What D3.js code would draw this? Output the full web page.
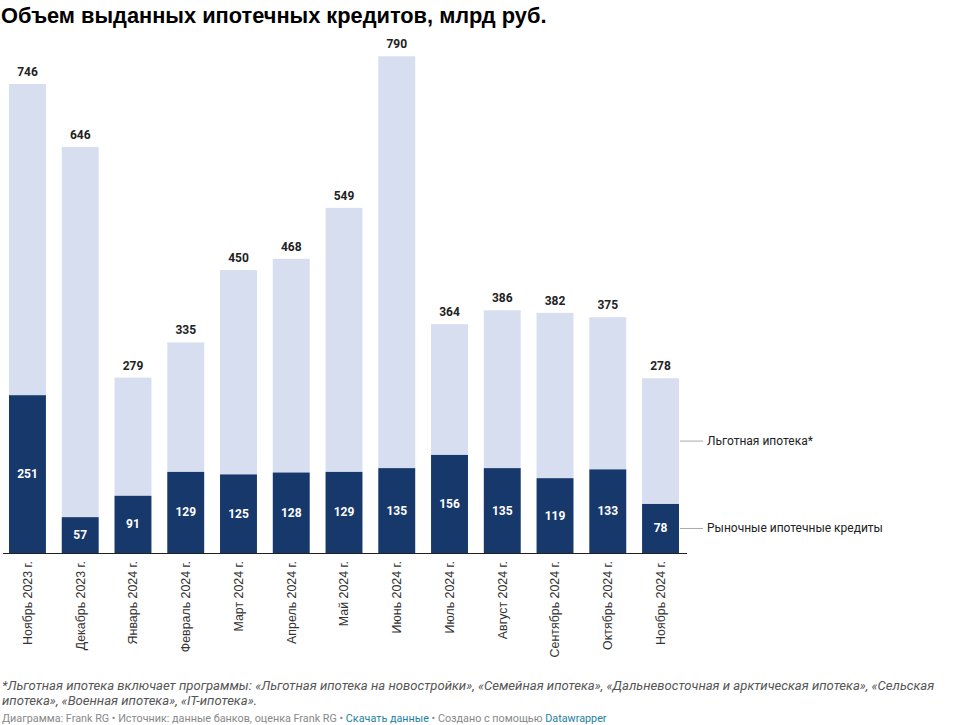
<!DOCTYPE html>
<html><head><meta charset="utf-8">
<script src="https://cdn.jsdelivr.net/npm/d3@7"></script>
<style>
body{margin:0;background:#fff;}
svg text{font-family:Roboto,"Noto Sans",sans-serif;}
</style></head>
<body>
<svg id="c" width="980" height="725"></svg>
<script>
const categories = ["Ноябрь 2023 г.","Декабрь 2023 г.","Январь 2024 г.","Февраль 2024 г.","Март 2024 г.","Апрель 2024 г.","Май 2024 г.","Июнь 2024 г.","Июль 2024 г.","Август 2024 г.","Сентябрь 2024 г.","Октябрь 2024 г.","Ноябрь 2024 г."];
const totals = [746,646,279,335,450,468,549,790,364,386,382,375,278];
const market = [251,57,91,129,125,128,129,135,156,135,119,133,78];
const seriesNames = ["Рыночные ипотечные кредиты","Льготная ипотека*"];
const preferential = totals.map((t,i)=>t-market[i]);

const svg = d3.select("#c");
const base=553;
const x = d3.scaleBand().domain(categories).range([9,679]).paddingInner(0.3).paddingOuter(0);
const y = d3.scaleLinear().domain([0,790]).range([base,base-790*0.6287]);
const dark="#17386b", light="#d6deef";

svg.append("text").attr("x",1).attr("y",23).text("Объем выданных ипотечных кредитов, млрд руб.")
  .style("font-family","'Liberation Sans',Arial,sans-serif").style("font-weight","bold").style("font-size","21.8px").attr("fill","#000");

const g = svg.append("g");
categories.forEach((c,i)=>{
  const x0=x(c), bw=x.bandwidth();
  g.append("rect").attr("x",x0).attr("width",bw).attr("y",y(totals[i])).attr("height",y(market[i])-y(totals[i])).attr("fill",light);
  g.append("rect").attr("x",x0).attr("width",bw).attr("y",y(market[i])).attr("height",base-y(market[i])).attr("fill",dark);
  g.append("text").attr("x",x0+bw/2).attr("y",y(totals[i])-8).attr("text-anchor","middle")
    .style("font-size","12px").style("font-weight","bold").attr("fill","#222").text(totals[i]);
  g.append("text").attr("x",x0+bw/2).attr("y",(y(market[i])+base)/2+4).attr("text-anchor","middle")
    .style("font-size","12px").style("font-weight","bold").attr("fill","#fff").text(market[i]);
});

const ax = svg.append("g").attr("transform",`translate(0,${base})`).call(d3.axisBottom(x).tickSize(0).tickPadding(0));
ax.select(".domain").remove();
ax.selectAll("text").attr("transform","rotate(-90)").attr("x",-8).attr("y",0).attr("dy","0.35em")
  .attr("text-anchor","end").style("font-size","12.4px").attr("fill","#333").style("font-family","'Liberation Sans',Arial,sans-serif");
svg.append("line").attr("x1",3).attr("x2",687).attr("y1",base+0.5).attr("y2",base+0.5).attr("stroke","#222").attr("stroke-width",1.2);

const li=categories.length-1, lx=x(categories[li])+x.bandwidth();
const legY=[(base+y(market[li]))/2, (y(market[li])+y(totals[li]))/2];
seriesNames.forEach((n,k)=>{
  svg.append("line").attr("x1",lx+1).attr("x2",lx+24).attr("y1",legY[k]).attr("y2",legY[k]).attr("stroke","#aaa").attr("stroke-width",1);
  svg.append("text").attr("x",lx+28).attr("y",legY[k]+4).style("font-size","12px").attr("fill","#222").text(n);
});

svg.append("text").attr("x",2).attr("y",690).style("font-size","13.1px").style("font-style","italic").attr("fill","#555")
  .text("*Льготная ипотека включает программы: «Льготная ипотека на новостройки», «Семейная ипотека», «Дальневосточная и арктическая ипотека», «Сельская");
svg.append("text").attr("x",2).attr("y",705).style("font-size","13.1px").style("font-style","italic").attr("fill","#555")
  .text("ипотека», «Военная ипотека», «IT-ипотека».");
const cr = svg.append("text").attr("x",2).attr("y",722).style("font-size","10.8px").attr("fill","#888");
cr.append("tspan").text("Диаграмма: Frank RG • Источник: данные банков, оценка Frank RG • ");
cr.append("tspan").attr("fill","#1d81a2").text("Скачать данные");
cr.append("tspan").text(" • Создано с помощью ");
cr.append("tspan").attr("fill","#1d81a2").text("Datawrapper");
</script>
</body></html>
